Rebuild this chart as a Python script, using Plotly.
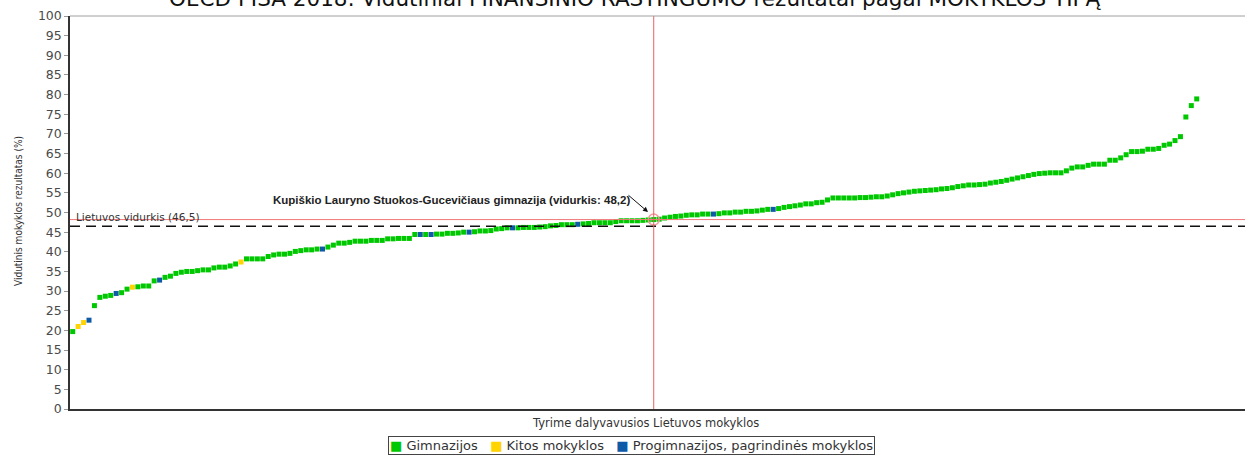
import plotly.graph_objects as go

# Average financial literacy score per school (%), sorted ascending
scores = [
    19.7, 21.0, 22.0, 22.6, 26.3, 28.4, 28.7, 28.9, 29.4, 29.6, 30.5, 31.0, 31.1, 31.3, 31.3, 32.6, 32.8,
    33.5, 33.8, 34.5, 34.8, 35.0, 35.0, 35.2, 35.4, 35.4, 35.9, 36.1, 36.1, 36.4, 36.9, 37.4, 38.2, 38.2,
    38.2, 38.2, 38.8, 39.2, 39.4, 39.4, 39.6, 40.1, 40.3, 40.5, 40.5, 40.7, 40.7, 41.2, 41.7, 42.2, 42.2,
    42.4, 42.7, 42.7, 42.7, 42.9, 42.9, 42.9, 43.3, 43.3, 43.4, 43.4, 43.4, 44.4, 44.4, 44.4, 44.4,
    44.5, 44.5, 44.7, 44.7, 44.8, 45.0, 45.0, 45.1, 45.3, 45.3, 45.4, 45.8, 45.9, 46.1, 46.1, 46.1, 46.2,
    46.2, 46.2, 46.3, 46.4, 46.6, 46.7, 46.9, 46.9, 46.9, 47.0, 47.1, 47.2, 47.4, 47.4, 47.4, 47.4, 47.7,
    47.9, 47.9, 47.9, 47.9,
    48.0, 48.1, 48.2, 48.3, 48.6, 48.8, 49.0, 49.1, 49.3, 49.4, 49.4, 49.6, 49.6, 49.6, 49.7, 49.9, 49.9,
    50.1, 50.1, 50.3, 50.3, 50.4, 50.6, 50.8, 50.8, 51.0, 51.3, 51.5, 51.7, 51.9, 52.2, 52.2, 52.5, 52.6,
    53.2, 53.7,
    53.7, 53.7, 53.7, 53.7, 53.8, 53.8, 53.9, 54.0, 54.0, 54.2, 54.5, 54.8, 55.0, 55.2, 55.4, 55.5, 55.6,
    55.7, 55.8, 56.0, 56.1, 56.3, 56.6, 56.8, 57.0, 57.0, 57.1, 57.2, 57.5, 57.7, 57.9, 58.2, 58.5, 58.8,
    59.1, 59.4, 59.7, 59.9, 60.0,
    60.1, 60.1, 60.1, 60.6, 61.3, 61.6, 61.6, 62.0, 62.3, 62.3, 62.3, 63.3, 63.3, 63.9, 64.7, 65.5, 65.5,
    65.6, 66.1, 66.1, 66.3, 67.1, 67.4, 68.3, 69.3, 74.3, 77.2, 78.9,
]

# School type per point: G = Gimnazijos, K = Kitos mokyklos, P = Progimnazijos, pagrindinės mokyklos
types = (
    "GKKPGGGGPGGKGGGGPGGGGGGGGGGGGGGKGG"
    "GGGGGGGGGGGGPGGGGGGGGGGGGGGGGGPGP"
    "GGGGGGPGGGGGGGPGGGGGGGGGGGPGGGGGGGGGGGG"
    "GGGGGGGGGGGGPGGGGGGGGGGPGGGGGGGGGGGG"
    "GGGGGGGGGGGGGGGGGGGGGGGGGGGGGGGGGGGGGGG"
    "GGGGGGGGGGGGGGGGGGGGGGGGGGGG"
)

type_names = {"G": "Gimnazijos", "K": "Kitos mokyklos", "P": "Progimnazijos, pagrindinės mokyklos"}
type_colors = {"G": "#00c800", "K": "#ffd400", "P": "#0e5aa7"}
type_order = ["G", "K", "P"]

national_avg = 46.5
highlight_index = 107
highlight_name = "Kupiškio Lauryno Stuokos-Gucevičiaus gimnazija"
highlight_value = 48.2

title_text = "OECD PISA 2018: Vidutiniai FINANSINIO RAŠTINGUMO rezultatai pagal MOKYKLOS TIPĄ"
y_title = "Vidutinis mokyklos rezultatas (%)"
x_title = "Tyrime dalyvavusios Lietuvos mokyklos"

n = len(scores)
x_all = list(range(n))

fig = go.Figure()

for t in type_order:
    xs = [i for i in x_all if types[i] == t]
    ys = [scores[i] for i in xs]
    fig.add_trace(go.Scatter(
        x=xs, y=ys, mode="markers", name=type_names[t], showlegend=False,
        marker=dict(symbol="square", size=5, color=type_colors[t], line=dict(width=0)),
    ))

# highlight ring
fig.add_trace(go.Scatter(
    x=[highlight_index], y=[highlight_value], mode="markers", showlegend=False,
    marker=dict(symbol="circle-open", size=11, color="#f59a9a", line=dict(width=1.5)),
))

px_per_idx = 5.43
x0 = -0.5
x1 = x0 + 1175 / px_per_idx

shapes = [
    dict(type="line", xref="paper", yref="y", x0=0, x1=1, y0=highlight_value, y1=highlight_value,
         line=dict(color="#f07878", width=1)),
    dict(type="line", xref="paper", yref="y", x0=0, x1=1, y0=national_avg, y1=national_avg,
         line=dict(color="#111111", width=1.5, dash="10px,6px")),
    dict(type="line", xref="x", yref="paper", x0=highlight_index, x1=highlight_index, y0=0, y1=1,
         line=dict(color="#e86060", width=1)),
    dict(type="line", xref="paper", yref="paper", x0=0, x1=1, y0=1, y1=1,
         line=dict(color="#a0a0a0", width=1)),
]

legend_text = "   ".join(
    '<span style="color:%s">■</span> %s' % (type_colors[t], type_names[t]) for t in type_order
)

annotations = [
    dict(text=title_text, xref="paper", yref="paper", x=(635 - 70) / 1175, y=(409 - 13) / 393,
         xanchor="center", yanchor="bottom", showarrow=False,
         font=dict(family="DejaVu Sans", size=21.5, color="#111111")),
    dict(text=y_title, xref="paper", yref="paper", x=(18 - 70) / 1175, y=(409 - 211) / 393,
         xanchor="center", yanchor="middle", textangle=-90, showarrow=False,
         font=dict(family="Liberation Sans Narrow, DejaVu Sans Condensed, Liberation Sans", size=10,
                   color="#333333")),
    dict(text=x_title, xref="paper", yref="paper", x=(645 - 70) / 1175, y=(409 - 423) / 393,
         xanchor="center", yanchor="middle", showarrow=False,
         font=dict(family="DejaVu Sans", size=11.5, color="#333333")),
    dict(text="Lietuvos vidurkis (46,5)", xref="paper", yref="y", x=(74 - 70) / 1175, y=48.9,
         xanchor="left", yanchor="middle", showarrow=False,
         font=dict(family="DejaVu Sans", size=10.5, color="#333333")),
    dict(text="<b>" + highlight_name + " (vidurkis: 48,2)</b>", xref="x", yref="y",
         x=x0 + (451 - 70) / px_per_idx, y=53.2, xanchor="center", yanchor="middle", showarrow=False,
         font=dict(family="Liberation Sans", size=11.5, color="#222222")),
    dict(text="", xref="x", yref="y", x=x0 + (648 - 70) / px_per_idx, y=(409 - 212) / 3.93,
         axref="x", ayref="y", ax=x0 + (627 - 70) / px_per_idx, ay=(409 - 194) / 3.93,
         showarrow=True, arrowhead=2, arrowsize=1, arrowwidth=1, arrowcolor="#111111"),
    # legend box
    dict(text=legend_text, xref="paper", yref="paper", x=(631 - 70) / 1175, y=(409 - 446) / 393,
         xanchor="center", yanchor="middle", showarrow=False,
         bordercolor="#444444", borderwidth=1, borderpad=1, bgcolor="white",
         font=dict(family="DejaVu Sans", size=13, color="#333333")),
]

fig.update_layout(
    width=1245, height=455,
    margin=dict(l=70, r=0, t=16, b=46, autoexpand=False),
    plot_bgcolor="white", paper_bgcolor="white",
    showlegend=False,
    xaxis=dict(range=[x0, x1], showticklabels=False, ticks="", showgrid=False, zeroline=False,
               showline=True, linecolor="#333333", linewidth=1.5, automargin=False),
    yaxis=dict(range=[0, 100], dtick=5, ticks="outside", ticklen=4, tickcolor="#999999",
               showgrid=False, zeroline=False, showline=True, linecolor="#333333", linewidth=1.5,
               automargin=False,
               tickfont=dict(family="DejaVu Sans", size=12.5, color="#4a4a4a")),
    shapes=shapes,
    annotations=annotations,
)

fig.write_html("out.html", config={"displayModeBar": False},
               post_script="document.body.style.margin='0px';")
